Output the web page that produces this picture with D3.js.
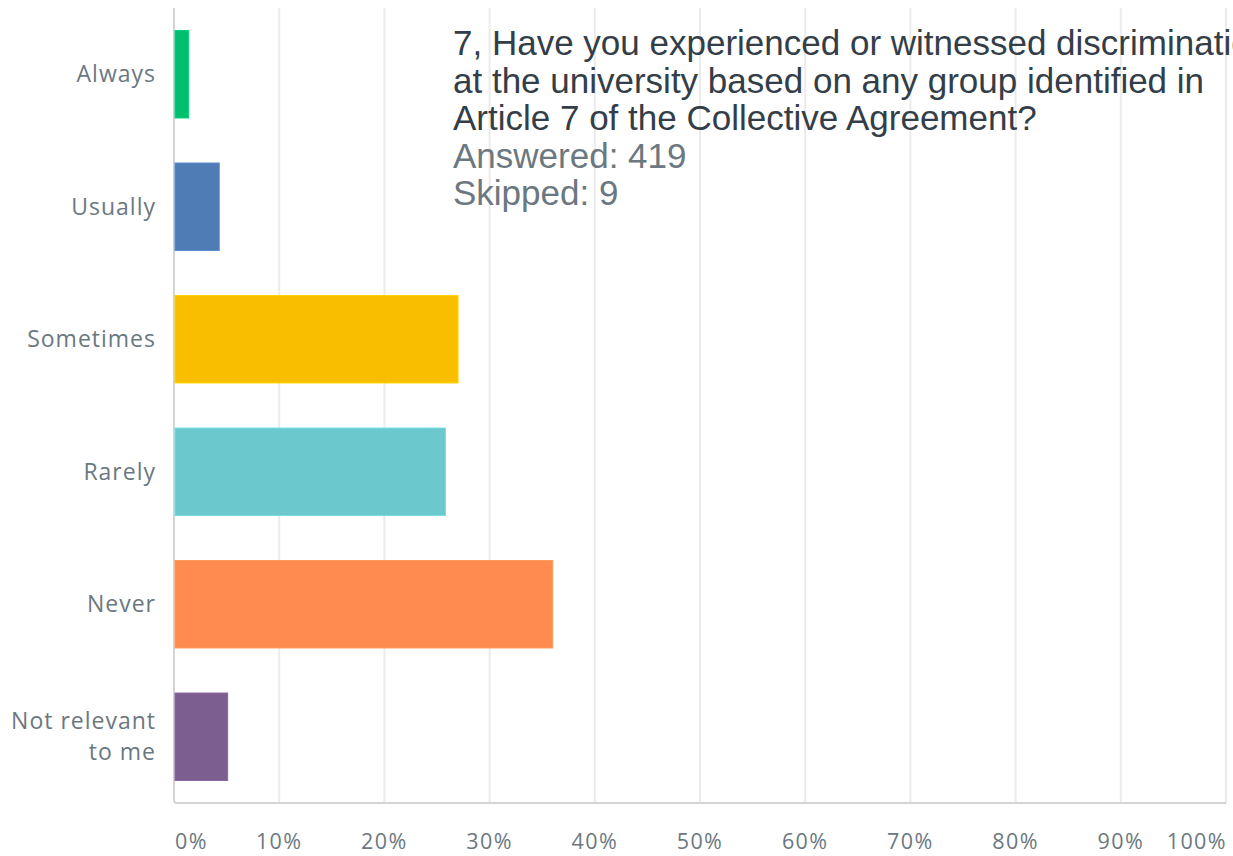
<!DOCTYPE html>
<html>
<head>
<meta charset="utf-8">
<script src="https://cdn.jsdelivr.net/npm/d3@7"></script>
<style>
  html, body { margin: 0; padding: 0; background: #fff; overflow: hidden; }
  svg { display: block; }
</style>
</head>
<body>
<svg id="chart" width="1233" height="856"></svg>
<script>
// Survey responses (% of respondents)
const categories = ["Always", "Usually", "Sometimes", "Rarely", "Never", "Not relevant to me"];
const categoryLines = [["Always"], ["Usually"], ["Sometimes"], ["Rarely"], ["Never"], ["Not relevant", "to me"]];
const percentages = [1.4, 4.3, 27.0, 25.8, 36.0, 5.1];
const barColors = ["#00bf6f", "#507cb6", "#f9be00", "#6bc8cd", "#ff8b4f", "#7d5e90"];
const tickValues = [0, 10, 20, 30, 40, 50, 60, 70, 80, 90, 100];
const titleLines = [
  "7, Have you experienced or witnessed discrimination",
  "at the university based on any group identified in",
  "Article 7 of the Collective Agreement?"
];
const statLines = ["Answered: 419", "Skipped: 9"];

const svg = d3.select("#chart");
const plot = { left: 174, right: 1226, top: 8, bottom: 803 };

const x = d3.scaleLinear().domain([0, 100]).range([plot.left, plot.right]);
const y = d3.scaleBand()
  .domain(categories)
  .range([plot.top, plot.bottom])
  .paddingInner(0.34)
  .paddingOuter(0.17);

// vertical gridlines
svg.append("g")
  .selectAll("line")
  .data(tickValues.filter(d => d > 0))
  .join("line")
  .attr("x1", d => x(d)).attr("x2", d => x(d))
  .attr("y1", plot.top).attr("y2", plot.bottom)
  .attr("stroke", "#ebebeb")
  .attr("stroke-width", 2);

// axis frame (left and bottom)
svg.append("path")
  .attr("d", `M${plot.left},${plot.top} V${plot.bottom - 3} Q${plot.left},${plot.bottom} ${plot.left + 3},${plot.bottom} H${plot.right}`)
  .attr("fill", "none")
  .attr("stroke", "#d4d4d4")
  .attr("stroke-width", 2);

// bars
svg.append("g")
  .selectAll("rect")
  .data(categories)
  .join("rect")
  .attr("x", x(0) + 1)
  .attr("y", d => y(d))
  .attr("width", (d, i) => x(percentages[i]) - x(0) - 1)
  .attr("height", y.bandwidth())
  .attr("fill", (d, i) => barColors[i])
  .attr("stroke", (d, i) => d3.color(barColors[i]).brighter(0.3))
  .attr("stroke-width", 1);

// category labels
const labelFont = "'Open Sans', 'DejaVu Sans', sans-serif";
const cat = svg.append("g")
  .selectAll("text")
  .data(categories)
  .join("text")
  .attr("text-anchor", "end")
  .attr("font-family", labelFont)
  .attr("font-size", 23)
  .attr("letter-spacing", 1.0)
  .attr("fill", "#6b787f");
cat.each(function (d, i) {
  const lines = categoryLines[i];
  const cy = y(d) + y.bandwidth() / 2;
  const lh = 31;
  const t = d3.select(this);
  lines.forEach((ln, j) => {
    t.append("tspan")
      .attr("x", 156)
      .attr("y", cy + (j - (lines.length - 1) / 2) * lh)
      .attr("dy", "0.35em")
      .text(ln);
  });
});

// x tick labels
svg.append("g")
  .selectAll("text")
  .data(tickValues)
  .join("text")
  .attr("x", (d, i) => x(d) + (i === 0 ? 1 : (i === tickValues.length - 1 ? 1 : 0)))
  .attr("y", 841)
  .attr("dy", "0.35em")
  .attr("text-anchor", (d, i) => i === 0 ? "start" : (i === tickValues.length - 1 ? "end" : "middle"))
  .attr("font-family", labelFont)
  .attr("font-size", 21.5)
  .attr("letter-spacing", 1.4)
  .attr("fill", "#6b787f")
  .text(d => d + "%");

// question title and response counts (first line runs past the right edge)
const titleFont = "'Liberation Sans', Arial, sans-serif";
svg.append("g")
  .selectAll("text")
  .data(titleLines.concat(statLines))
  .join("text")
  .attr("x", 453)
  .attr("y", (d, i) => 55 + i * 37.5)
  .attr("font-family", titleFont)
  .attr("font-size", 35)
  .attr("fill", (d, i) => i < titleLines.length ? "#333e48" : "#6b787f")
  .text(d => d);
</script>
</body>
</html>
